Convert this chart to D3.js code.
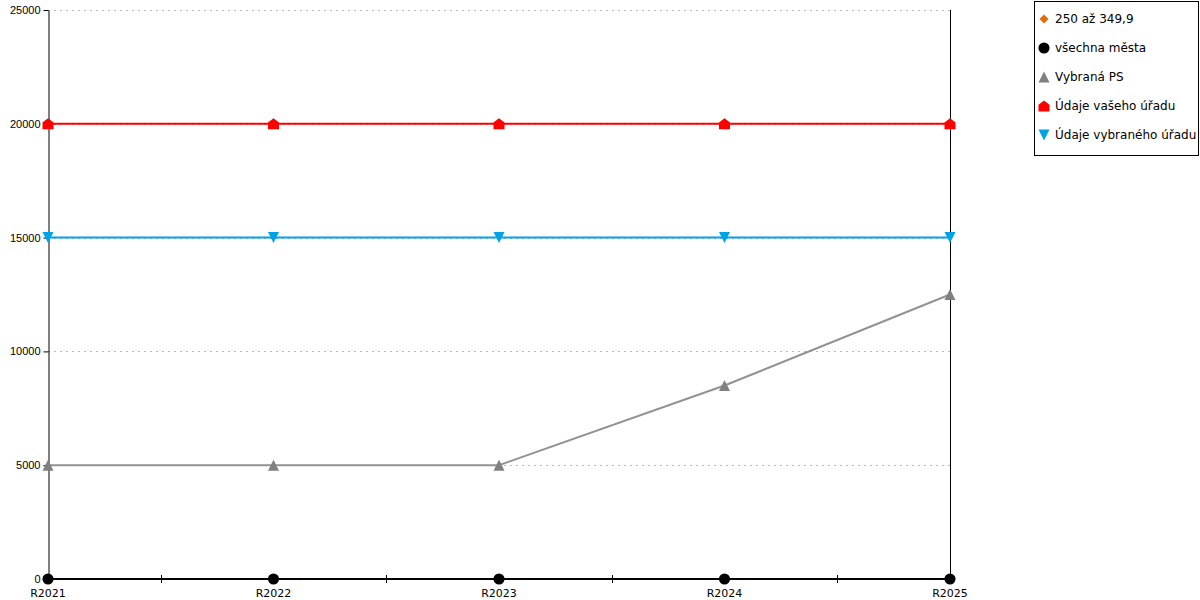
<!DOCTYPE html>
<html>
<head>
  <meta charset="utf-8">
  <title>chart</title>
  <style>
    * { margin: 0; padding: 0; }
    body { width: 1200px; height: 600px; background: #fff; font-family: "DejaVu Sans", sans-serif; }
    .grid line { stroke: #bbb; stroke-dasharray: 2 4; }
    .axis text { font-size: 11px; fill: #000; }
    .legend text { font-size: 12px; fill: #000; }
  </style>
</head>
<body>
  <svg id="svg"></svg>
  <script src="https://cdnjs.cloudflare.com/ajax/libs/d3/7.8.5/d3.min.js"></script>
  <script>
    const categories = ['R2021', 'R2022', 'R2023', 'R2024', 'R2025'];
    const yTicks = [0, 5000, 10000, 15000, 20000, 25000];

    const seriesNames = ['250 až 349,9', 'všechna města', 'Vybraná PS', 'Údaje vašeho úřadu', 'Údaje vybraného úřadu'];
    const valuesRange = [null, null, null, null, null];
    const valuesAll = [0, 0, 0, 0, 0];
    const valuesPS = [5000, 5000, 5000, 8500, 12500];
    const valuesOwn = [20000, 20000, 20000, 20000, 20000];
    const valuesSelected = [15000, 15000, 15000, 15000, 15000];

    const series = [
      { name: seriesNames[0], values: valuesRange, color: '#e36c0a', line: '#e36c0a', shape: 'diamond' },
      { name: seriesNames[1], values: valuesAll, color: '#000000', line: '#000000', shape: 'circle' },
      { name: seriesNames[2], values: valuesPS, color: '#808080', line: '#929292', shape: 'triangle' },
      { name: seriesNames[3], values: valuesOwn, color: '#ff0000', line: '#ff0000', shape: 'house' },
      { name: seriesNames[4], values: valuesSelected, color: '#00a2e8', line: '#00a2e8', shape: 'down' }
    ];

    const dim = { width: 1200, height: 600, left: 48, right: 950, top: 10, bottom: 579 };

    const svg = d3.select('#svg').attr('width', dim.width).attr('height', dim.height);

    const x = d3.scalePoint().domain(categories).range([dim.left, dim.right]);
    const y = d3.scaleLinear().domain([0, 25000]).range([dim.bottom, dim.top]);

    // grid
    svg.append('g')
      .attr('class', 'grid')
      .selectAll('line')
      .data(yTicks.filter(d => d > 0))
      .enter()
      .append('line')
      .attr('x1', dim.left)
      .attr('x2', dim.right)
      .attr('y1', d => Math.round(y(d)) + 0.5)
      .attr('y2', d => Math.round(y(d)) + 0.5);

    // y axis
    const yAxis = d3.axisLeft(y).tickValues(yTicks).tickSize(5).tickSizeOuter(0).tickPadding(3).tickFormat(d3.format('d'));
    const yg = svg.append('g')
      .attr('class', 'axis')
      .attr('transform', `translate(${dim.left + 0.5},0)`)
      .call(yAxis);
    yg.select('.domain').attr('stroke', '#000');
    yg.selectAll('.tick line').attr('stroke', '#000');

    // right vertical line
    svg.append('line')
      .attr('x1', dim.right + 0.5).attr('x2', dim.right + 0.5)
      .attr('y1', dim.top).attr('y2', dim.bottom)
      .attr('stroke', '#000');

    // x axis: labels under categories, ticks between them
    const xg = svg.append('g').attr('class', 'axis');
    xg.append('line')
      .attr('x1', dim.left).attr('x2', dim.right)
      .attr('y1', dim.bottom + 0.5).attr('y2', dim.bottom + 0.5)
      .attr('stroke', '#000');
    const mids = categories.slice(1).map((c, i) => (x(categories[i]) + x(c)) / 2);
    xg.selectAll('.mid')
      .data(mids)
      .enter()
      .append('line')
      .attr('x1', d => Math.round(d) + 0.5)
      .attr('x2', d => Math.round(d) + 0.5)
      .attr('y1', dim.bottom - 4)
      .attr('y2', dim.bottom + 4)
      .attr('stroke', '#000');
    xg.selectAll('.lbl')
      .data(categories)
      .enter()
      .append('text')
      .attr('x', d => x(d))
      .attr('y', dim.bottom + 18)
      .attr('text-anchor', 'middle')
      .text(d => d);

    const symbol = (shape, s) => {
      if (shape === 'circle') return d3.symbol(d3.symbolCircle, s * s * 0.8)();
      if (shape === 'diamond') return `M0,${-s / 2}L${s / 2},0L0,${s / 2}L${-s / 2},0Z`;
      if (shape === 'triangle') return `M0,${-s / 2}L${s / 2},${s / 2}L${-s / 2},${s / 2}Z`;
      if (shape === 'down') return `M${-s / 2},${-s / 2}L${s / 2},${-s / 2}L0,${s / 2}Z`;
      if (shape === 'house') return `M0,${-s / 2}L${s / 2},${-s / 8}L${s / 2},${s / 2}L${-s / 2},${s / 2}L${-s / 2},${-s / 8}Z`;
    };

    const line = d3.line()
      .defined(d => d.v !== null)
      .x(d => x(d.c))
      .y(d => y(d.v));

    series.forEach(s => {
      const pts = categories.map((c, i) => ({ c: c, v: s.values[i] }));
      svg.append('path')
        .datum(pts)
        .attr('fill', 'none')
        .attr('stroke', s.line)
        .attr('stroke-width', 2)
        .attr('d', line);
      svg.selectAll(null)
        .data(pts.filter(d => d.v !== null))
        .enter()
        .append('path')
        .attr('transform', d => `translate(${x(d.c)},${y(d.v)})`)
        .attr('d', symbol(s.shape, 11))
        .attr('fill', s.color);
    });

    // legend
    const lg = svg.append('g').attr('class', 'legend');
    lg.append('rect')
      .attr('x', 1034.5).attr('y', 1.5)
      .attr('width', 164).attr('height', 154)
      .attr('fill', '#fff').attr('stroke', '#000');
    const items = lg.selectAll('.item')
      .data(series)
      .enter()
      .append('g')
      .attr('transform', (d, i) => `translate(1044,${19 + i * 29})`);
    items.append('path')
      .attr('d', d => symbol(d.shape, d.shape === 'diamond' ? 9 : 11))
      .attr('fill', d => d.color);
    items.append('text')
      .attr('x', 11)
      .attr('y', 4)
      .text(d => d.name);
  </script>
</body>
</html>
